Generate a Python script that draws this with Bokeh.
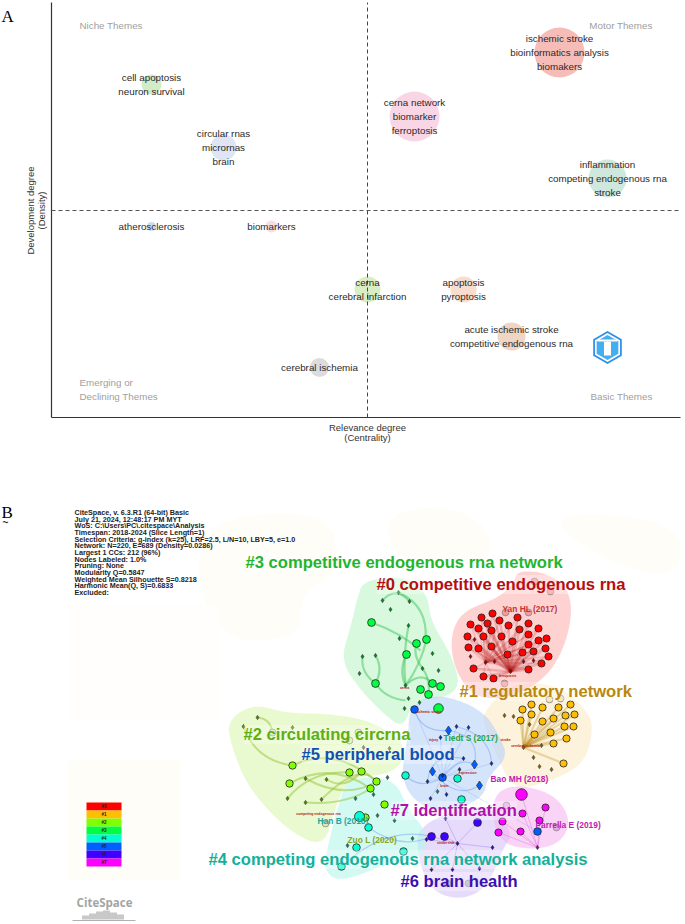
from math import pi
from bokeh.plotting import figure
from bokeh.layouts import column
from bokeh.core.properties import value
from bokeh.embed import file_html
from bokeh.resources import INLINE

SANS = value("Liberation Sans")
SERIF = value("Liberation Serif")
# ------------- Panel A: strategic diagram (x = centrality, y = density, relative to the medians)
theme_centrality = [192, 47, 240, -216, -144, -216, -96, 0, 96, 144, -48]
theme_density = [158, 94, 32, 126, 63, -16, -16, -79, -79, -126, -157]
theme_radius = [25, 25, 19, 10, 13, 4.5, 6, 13, 13, 14, 9.5]
theme_color = ["#f6bdb8", "#f9d6e6", "#cfe8de", "#d3ecc8", "#dfe5f2", "#c9dcf3", "#f6dfe0",
               "#d9eec4", "#f8dccd", "#eed5c4", "#dcdcdc"]
theme_labels = [["ischemic stroke", "bioinformatics analysis", "biomakers"],
                ["cerna network", "biomarker", "ferroptosis"],
                ["inflammation", "competing endogenous rna", "stroke"],
                ["cell apoptosis", "neuron survival"],
                ["circular rnas", "micrornas", "brain"],
                ["atherosclerosis"], ["biomarkers"],
                ["cerna", "cerebral infarction"], ["apoptosis", "pyroptosis"],
                ["acute ischemic stroke", "competitive endogenous rna"],
                ["cerebral ischemia"]]
corner_left = ["Niche Themes", "Emerging or", "Declining Themes"]
corner_left_x = [-288, -288, -288]
corner_left_y = [185, -172, -186]
corner_right = ["Motor Themes", "Basic Themes"]
corner_right_x = [285, 285]
corner_right_y = [185, -186]
axis_x_title = ["Relevance degree", "(Centrality)"]
axis_y_title = ["Development degree", "(Density)"]
centrality_min, centrality_max = -316, 313
density_min, density_max = -207, 208

# ------------- Panel B: co-citation network (page-pixel scale of the map)
meta_lines = ["CiteSpace, v. 6.3.R1 (64-bit) Basic", "July 21, 2024, 12:48:17 PM MYT",
              "WoS: C:\\Users\\PC\\.citespace\\Analysis", "Timespan: 2018-2024 (Slice Length=1)",
              "Selection Criteria: g-index (k=25), LRF=2.5, L/N=10, LBY=5, e=1.0",
              "Network: N=220, E=689 (Density=0.0286)", "Largest 1 CCs: 212 (96%)",
              "Nodes Labeled: 1.0%", "Pruning: None", "Modularity Q=0.5847",
              "Weighted Mean Silhouette S=0.8218", "Harmonic Mean(Q, S)=0.6833", "Excluded:"]

hull_red = [(517, 570), (545, 572), (567, 587), (572, 613), (563, 650), (543, 680), (507, 698), (473, 697),
            (453, 667), (450, 633), (463, 610), (497, 598), (513, 583)]
hull_green = [(363, 580), (403, 575), (427, 593), (430, 620), (450, 653), (460, 683), (447, 697), (413, 700),
              (403, 727), (387, 717), (360, 690), (340, 660), (350, 627), (357, 597)]
hull_yellow = [(483, 713), (507, 683), (557, 683), (590, 713), (592, 735), (583, 763), (553, 780), (513, 790),
               (497, 757), (483, 723)]
hull_blue = [(410, 703), (440, 693), (483, 710), (500, 737), (507, 757), (487, 777), (483, 797), (453, 810),
             (420, 807), (400, 780), (407, 737)]
hull_lime = [(227, 720), (253, 703), (287, 713), (327, 713), (370, 720), (407, 743), (397, 773), (347, 777),
             (333, 813), (323, 847), (287, 830), (247, 787), (230, 743)]
hull_cyan = [(347, 777), (393, 777), (407, 807), (427, 833), (423, 857), (387, 863), (340, 882), (323, 870),
             (327, 847), (337, 807)]
hull_purple = [(417, 823), (487, 800), (513, 833), (503, 847), (487, 887), (460, 900), (430, 890), (417, 857)]
hull_magenta = [(490, 797), (513, 783), (553, 793), (570, 817), (563, 840), (537, 850), (497, 843)]

nodes_red = [(481, 617), (492, 613), (470, 624), (487, 623), (499, 620), (517, 617), (528, 623), (478, 628),
             (491, 630), (508, 625), (519, 629), (538, 628), (467, 636), (483, 636), (501, 636), (528, 634),
             (546, 638), (538, 640), (512, 641), (468, 647), (478, 648), (491, 646), (528, 644), (545, 648),
             (522, 652), (533, 651), (507, 654), (548, 656), (541, 663), (473, 668), (528, 669), (483, 676),
             (493, 678)]
small_red = [(474, 639), (470, 656), (485, 662), (494, 661), (523, 661), (533, 660), (510, 671)]
pale_red = [(534, 581), (550, 591), (505, 612), (528, 612), (504, 683)]
nodes_green = [(371, 622), (416, 643), (426, 639), (406, 654), (375, 683), (432, 683), (440, 686), (420, 689),
               (428, 694), (438, 708)]
small_green = [(398, 592), (382, 600), (409, 601), (390, 609), (408, 625), (399, 638), (432, 653), (362, 656),
               (375, 655), (422, 668), (438, 670), (359, 673), (405, 685), (408, 698), (419, 702), (404, 708)]
nodes_yellow = [(522, 709), (531, 704), (542, 707), (558, 707), (570, 704), (531, 714), (520, 720), (542, 721),
                (553, 718), (565, 715), (574, 714), (564, 726), (573, 726), (534, 734), (550, 732), (566, 738),
                (563, 763), (553, 743)]
pale_yellow = [(549, 699), (560, 698)]
small_yellow = [(504, 715), (513, 716), (529, 724), (533, 757), (539, 766), (551, 769), (541, 745), (523, 747)]
nodes_lime = [(292, 765), (289, 783), (349, 772), (361, 771), (376, 781), (370, 788), (384, 804), (365, 817)]
pale_lime = [(272, 732), (358, 732), (349, 740), (325, 823)]
small_lime = [(257, 717), (243, 726), (292, 727), (305, 778), (326, 779), (287, 798), (305, 802), (321, 799),
              (363, 747), (389, 748)]
nodes_cyan = [(405, 775), (457, 778), (461, 799), (359, 816), (368, 827), (356, 847), (403, 851), (341, 866)]
small_cyan = [(355, 798), (373, 794), (387, 777), (377, 815), (394, 820), (412, 838), (347, 845), (437, 791)]
nodes_blue = [(537, 831), (442, 777), (414, 709)]
diamond_blue = [(448, 730), (474, 764), (432, 771), (479, 785)]
small_blue = [(456, 726), (468, 727), (440, 737), (463, 758), (491, 763), (459, 769), (442, 775), (427, 781),
              (446, 794), (430, 798)]
nodes_purple = [(431, 836), (444, 836), (477, 822)]
small_purple = [(445, 818), (426, 839), (457, 843), (492, 847), (431, 869), (452, 869), (479, 868)]
pale_purple = [(468, 883), (447, 883)]
nodes_magenta = [(521, 794), (522, 813), (545, 807), (502, 821), (539, 820), (520, 831), (498, 832)]
pale_magenta = [(506, 805), (556, 827)]
small_magenta = [(537, 847)]

arcs_green = [(371, 622, 420, 650, 400, 632), (426, 639, 405, 685, 420, 665), (406, 654, 405, 685, 398, 670),
              (375, 683, 405, 700, 385, 698), (375, 655, 375, 683, 383, 668), (362, 656, 375, 683, 360, 672),
              (416, 643, 422, 668, 412, 655), (422, 668, 428, 694, 430, 678), (405, 685, 432, 683, 420, 670),
              (398, 592, 425, 640, 428, 605), (382, 600, 409, 601, 395, 585), (408, 625, 405, 685, 402, 655)]
arcs_lime = [(292, 765, 376, 781, 335, 745), (289, 783, 370, 788, 330, 760), (305, 778, 376, 781, 345, 800),
             (305, 802, 370, 788, 345, 805), (326, 779, 361, 771, 345, 790), (287, 798, 349, 772, 310, 770),
             (321, 799, 376, 781, 360, 760), (257, 717, 272, 732, 270, 718), (243, 726, 292, 765, 255, 760)]
arcs_blue = [(448, 730, 474, 764, 480, 735), (456, 726, 491, 763, 490, 735), (414, 709, 448, 730, 420, 732),
             (442, 777, 474, 764, 458, 755), (432, 771, 479, 785, 455, 800), (427, 781, 463, 758, 430, 752),
             (405, 775, 442, 777, 420, 790), (341, 866, 431, 836, 385, 825), (368, 827, 431, 836, 400, 850)]

cluster_names = ["#3 competitive endogenous rna network", "#0 competitive endogenous rna", "#1 regulatory network",
                 "#2 circulating circrna", "#5 peripheral blood", "#7 identification",
                 "#4 competing endogenous rna network analysis", "#6 brain health"]
cluster_x = [245, 376, 459, 243, 301, 390, 208, 400]
cluster_y = [562, 584, 691, 734, 754, 810, 859, 881]
cluster_color = ["#1fb52f", "#b50e12", "#b8880f", "#5cb010", "#1050b0", "#b010a8", "#14b09a", "#3a10b0"]

author_names = ["Yan HL (2017)", "Tiedt S (2017)", "Bao MH (2018)", "Parrella E (2019)", "Han B (2018)", "Zuo L (2020)"]
author_x = [502, 443, 490, 535, 317, 347]
author_y = [608, 737, 778, 824, 820, 839]
author_color = ["#c03535", "#22a545", "#c020b0", "#c020b0", "#22a5a0", "#8aa520"]

keyword_names = ["ferroptosis", "cerna", "ischemic stroke", "injury", "stroke", "cerebral ischemia", "expression",
                 "brain", "competing endogenous rna", "stroke risk"]
keyword_x = [507, 404, 428, 433, 505, 525, 467, 444, 318, 445]
keyword_y = [675, 687, 711, 739, 739, 745, 772, 785, 813, 842]

legend_labels = ["#0", "#1", "#2", "#3", "#4", "#5", "#6", "#7"]
legend_colors = ["#ff0000", "#ffbf00", "#80ff00", "#00ff40", "#00ffd0", "#0060ff", "#4000ff", "#ff00ff"]


def smooth(points, rounds=3):
    pts = list(points)
    for _ in range(rounds):
        out = []
        for i, (x0, y0) in enumerate(pts):
            x1, y1 = pts[(i + 1) % len(pts)]
            out.append((0.75 * x0 + 0.25 * x1, 0.75 * y0 + 0.25 * y1))
            out.append((0.25 * x0 + 0.75 * x1, 0.25 * y0 + 0.75 * y1))
        pts = out
    return [q[0] for q in pts], [q[1] for q in pts]


def xs(points):
    return [q[0] for q in points]


def ys(points):
    return [q[1] for q in points]


# ===================== Panel A =====================
a = figure(width=685, height=490, x_range=(-367, 318), y_range=(-280, 210), output_backend="svg",
           toolbar_location=None, min_border=0)
a.outline_line_color = None
a.grid.visible = False
a.axis.visible = False
a.circle(theme_centrality, theme_density, radius=theme_radius, radius_units="screen", fill_color=theme_color,
         line_color=None)
a.line([centrality_min, centrality_min], [density_min, density_max], line_color="#333333", line_width=1.2)
a.line([centrality_min, centrality_max], [density_min, density_min], line_color="#333333", line_width=1.2)
a.line([0, 0], [density_min, density_max], line_color="#444444", line_dash="4 3", line_width=1)
a.line([centrality_min, centrality_max], [0, 0], line_color="#555555", line_dash="4 3", line_width=1)
a.text([0, 0], [-217, -227], text=axis_x_title, text_font=SANS, text_font_size="9.5px", text_align="center",
       text_baseline="middle", text_color="#333333")
a.text([-337, -326], [0, 0], text=axis_y_title, angle=pi / 2, text_font=SANS, text_font_size="9.5px",
       text_align="center", text_baseline="middle", text_color="#333333")
tx, ty, tt = [], [], []
for cx, cy, lines in zip(theme_centrality, theme_density, theme_labels):
    for k, line in enumerate(lines):
        tx.append(cx)
        ty.append(cy + (len(lines) - 1) * 7.1 - k * 14.2)
        tt.append(line)
a.text(tx, ty, text=tt, text_font=SANS, text_font_size="9.8px", text_align="center", text_baseline="middle",
       text_color="#2a2a2a")
a.text(corner_left_x, corner_left_y, text=corner_left, text_font=SANS, text_font_size="9.8px", text_align="left",
       text_baseline="middle", text_color="#a0a0a0")
a.text(corner_right_x, corner_right_y, text=corner_right, text_font=SANS, text_font_size="9.8px", text_align="right",
       text_baseline="middle", text_color="#a0a0a0")
logo_x = [240]
logo_y = [-137]
a.scatter(logo_x, logo_y, marker="hex", size=33, angle=1.5708, fill_color="#2b8fe6", line_color=None)
a.scatter(logo_x, logo_y, marker="hex", size=29, angle=1.5708, fill_color="white", line_color=None)
a.scatter(logo_x, logo_y, marker="hex", size=25, angle=1.5708, fill_color="#45aef0", line_color=None)
a.rect(logo_x, [-138], width=7, height=14, fill_color="white", line_color=None)
a.rect(logo_x, [-130], width=20, height=2, fill_color="white", line_color=None)
a.text([-366], [194], text=["A"], text_font=SERIF, text_font_size="17px", text_color="black",
       text_align="left", text_baseline="middle")

# ===================== Panel B =====================
b = figure(width=685, height=434, x_range=(0, 685), y_range=(924, 490), output_backend="svg", toolbar_location=None,
           min_border=0)
b.axis.visible = False
b.grid.visible = False
b.outline_line_color = None

# faint cream background shapes of the map
b.patch(*smooth([(190, 520), (330, 508), (340, 575), (300, 590), (300, 640), (210, 640)], 2), fill_color="#fefdf7", line_color=None)
b.patch(*smooth([(380, 510), (470, 505), (500, 560), (400, 570)], 2), fill_color="#fefdf7", line_color=None)
b.patch(*smooth([(540, 510), (680, 520), (680, 580), (600, 560)], 2), fill_color="#fefdf7", line_color=None)
b.quad(left=[67], right=[180], top=[760], bottom=[880], fill_color="#fefdf8", line_color=None)
b.quad(left=[70], right=[220], top=[605], bottom=[720], fill_color="#fffefc", line_color=None)

hulls = [(hull_yellow, "#fbe7bd", 0.55), (hull_lime, "#dcf7b0", 0.6), (hull_green, "#bff5c8", 0.6),
         (hull_red, "#ffa5a5", 0.5), (hull_purple, "#d3bdf8", 0.55), (hull_magenta, "#f5b0f0", 0.55),
         (hull_cyan, "#b5f7ea", 0.6), (hull_blue, "#b8d2f8", 0.6)]
for pts, col, alp in hulls:
    hx, hy = smooth(pts)
    b.patch(hx, hy, fill_color=col, fill_alpha=alp, line_color=None)

# edges: fans into the hub of each cluster
fans = [(nodes_red, (510, 671), "#b01010", 0.2, 2.4), (nodes_red, (485, 662), "#b01010", 0.14, 1.6),
        (nodes_yellow, (523, 747), "#b8880f", 0.3, 2.0), (nodes_blue + small_blue, (442, 777), "#5d8df0", 0.3, 0.8),
        (nodes_purple + small_purple, (457, 843), "#8a55e0", 0.35, 0.9),
        (nodes_magenta, (537, 847), "#d040d0", 0.35, 0.9)]
for pts, (hx, hy), col, alp, lw in fans:
    b.segment(xs(pts), ys(pts), [hx] * len(pts), [hy] * len(pts), line_color=col, line_alpha=alp, line_width=lw)
for arcs, col, alp, lw in ((arcs_green, "#3fc65a", 0.5, 2.2), (arcs_lime, "#93c438", 0.5, 2.0),
                           (arcs_blue, "#6f9cf0", 0.45, 1.2)):
    b.quadratic([q[0] for q in arcs], [q[1] for q in arcs], [q[2] for q in arcs], [q[3] for q in arcs],
                [q[4] for q in arcs], [q[5] for q in arcs], line_color=col, line_alpha=alp, line_width=lw)

big = [(nodes_red, "#ff0000", 3.6), (nodes_green, "#00ff40", 3.9), (nodes_yellow, "#ffbf00", 3.6),
       (nodes_lime, "#80ff00", 3.7), (nodes_cyan, "#00ffd0", 3.8), (nodes_blue, "#0060ff", 3.8),
       (nodes_purple, "#4000ff", 3.9), (nodes_magenta, "#ff00ff", 3.6)]
for pts, col, r in big:
    sizes = [r] * len(pts)
    if pts is nodes_magenta:
        sizes[0] = 5.8
    if pts is nodes_cyan:
        sizes[3] = 5
    if pts is nodes_green:
        sizes[9] = 4.8
    b.circle(xs(pts), ys(pts), radius=sizes, radius_units="screen", fill_color=col, line_color="#222222", line_width=0.8)
for pts, col in ((pale_red, "#f59a9a"), (pale_yellow, "#f5e0a0"), (pale_lime, "#d8ecb0"), (pale_purple, "#b8b0c8"),
                 (pale_magenta, "#e8a8e8")):
    b.circle(xs(pts), ys(pts), radius=3.4, radius_units="screen", fill_color=col, line_color="#888888", line_width=0.8)
for pts, col in ((small_red, "#801010"), (small_green, "#108030"), (small_yellow, "#806010"), (small_lime, "#508010"),
                 (small_cyan, "#108070"), (small_blue, "#103090"), (small_purple, "#301090"), (small_magenta, "#801080")):
    b.scatter(xs(pts), ys(pts), marker="diamond", size=4.5, fill_color=col, line_color="#222222", line_width=0.4)
b.scatter(xs(diamond_blue), ys(diamond_blue), marker="diamond", size=9, fill_color="#0060ff", line_color="#222222", line_width=0.6)

b.text(keyword_x, keyword_y, text=keyword_names, text_font=SANS, text_font_style="bold", text_font_size="3.4px",
       text_align="center", text_baseline="middle", text_color="#b01818")
b.text(author_x, author_y, text=author_names, text_font=SANS, text_font_style="bold", text_font_size="8.4px",
       text_align="left", text_baseline="middle", text_color=author_color)
b.text(cluster_x, cluster_y, text=cluster_names, text_font=SANS, text_font_style="bold", text_font_size="16.6px",
       text_align="left", text_baseline="middle", text_color=cluster_color, background_fill_color="white",
       background_fill_alpha=0.3)

b.text([74] * len(meta_lines), [512 + 6.65 * i for i in range(len(meta_lines))], text=meta_lines, text_font=SANS,
       text_font_style="bold", text_font_size="7.2px", text_align="left", text_baseline="middle", text_color="#222222")

b.quad(left=[86] * 8, right=[121] * 8, top=[802 + 8 * i for i in range(8)], bottom=[810 + 8 * i for i in range(8)],
       fill_color=legend_colors, line_color=None)
b.text([103.5] * 8, [806 + 8 * i for i in range(8)], text=legend_labels, text_font=SANS, text_font_style="bold",
       text_font_size="4.5px", text_align="center", text_baseline="middle", text_color="#222222")

# CiteSpace logo
b.text([104], [902], text=["CiteSpace"], text_font=value("Open Sans"), text_font_style="bold", text_font_size="11.5px",
       text_align="center", text_baseline="middle", text_color="#a4a4a4")
logo_bar_x = [85, 92, 99, 106, 113, 120]
logo_bar_top = [915, 913, 911, 910, 912, 914]
b.quad(left=[v - 3.5 for v in logo_bar_x], right=[v + 3.5 for v in logo_bar_x], top=logo_bar_top,
       bottom=[919] * len(logo_bar_x), fill_color="#c8c8c8", line_color=None)
b.segment([72], [920], [135], [920], line_color="#b0b0b0", line_width=1)
b.text([1], [512], text=["B"], text_font=SERIF, text_font_size="17px", text_color="black", text_align="left",
       text_baseline="middle")
b.text([2], [522], text=["~"], text_font=SANS, text_font_size="10px", text_font_style="bold", text_color="#333333",
       text_align="left", text_baseline="middle")

page = column(a, b, spacing=0)
open("out.html", "w").write(file_html(page, INLINE))
